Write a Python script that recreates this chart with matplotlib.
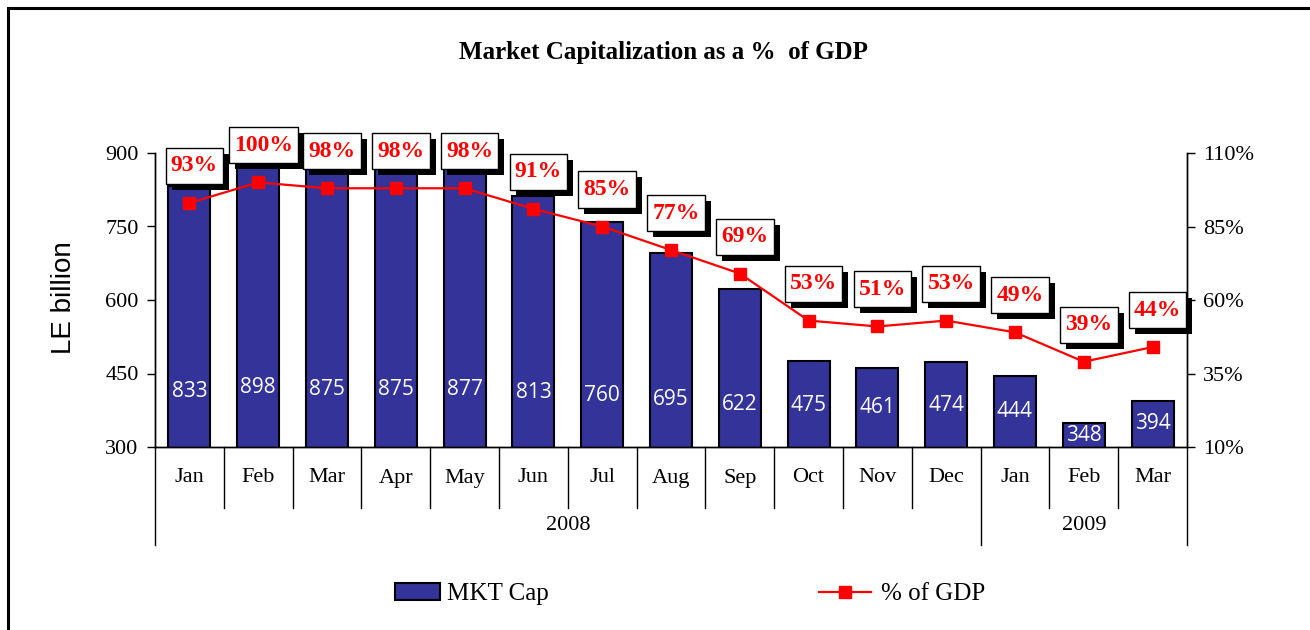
import matplotlib
matplotlib.use("Agg")
import matplotlib.pyplot as plt
from matplotlib.patches import Rectangle, Patch
from matplotlib.lines import Line2D
import matplotlib.patheffects as pe
import matplotlib.transforms as mtransforms
import numpy as np

months = ["Jan", "Feb", "Mar", "Apr", "May", "Jun", "Jul", "Aug", "Sep",
          "Oct", "Nov", "Dec", "Jan", "Feb", "Mar"]
years = ["2008", "2009"]
year_counts = [12, 3]
mkt_cap = [833, 898, 875, 875, 877, 813, 760, 695, 622, 475, 461, 474, 444, 348, 394]
pct_gdp = [93, 100, 98, 98, 98, 91, 85, 77, 69, 53, 51, 53, 49, 39, 44]

W, H, DPI = 1310, 630, 100
fig = plt.figure(figsize=(W / DPI, H / DPI), dpi=DPI)
px = 72.0 / DPI  # points per pixel

serif = "Liberation Serif"
sans_lbl = "Open Sans"
bar_color = "#333399"
red = "#FF0000"

ax = fig.add_axes([155 / W, 1 - 447 / H, (1187 - 155) / W, (447 - 153) / H])
ax2 = ax.twinx()

x = np.arange(len(months))
ax.bar(x, mkt_cap, width=0.61, color=bar_color, edgecolor="black", linewidth=1.5, zorder=2)
ax.set_xlim(-0.5, len(months) - 0.5)
ax.set_ylim(300, 900)
ax.set_yticks([300, 450, 600, 750, 900])
ax2.set_ylim(10, 110)
ax2.set_yticks([10, 35, 60, 85, 110])
ax2.set_yticklabels([f"{v}%" for v in [10, 35, 60, 85, 110]])

for a in (ax, ax2):
    a.spines["top"].set_visible(False)
    for s in a.spines.values():
        s.set_linewidth(1.0)
        s.set_color("black")
    a.tick_params(axis="y", direction="out", length=8 * px, width=1.0,
                  labelsize=16, pad=6)
    for lab in a.get_yticklabels():
        lab.set_fontfamily(serif)
ax.set_xticks([])

# bar value labels (placed inside the bars, Excel-like centring)
ymin = ax.get_ylim()[0]
for xi, v in zip(x, mkt_cap):
    ylab = min((v + ymin) / 2, max(385, 385 + 0.12 * (v - 600)))
    ax.text(xi, ylab, f"{v}", ha="center", va="center", color="white",
            fontsize=15, fontfamily=sans_lbl, zorder=3, clip_on=False)

# line on secondary axis
ax2.plot(x, pct_gdp, color=red, linewidth=1.6, marker="s", markersize=8,
         markerfacecolor=red, markeredgecolor=red, zorder=4)

# percentage labels in boxes with a solid drop shadow
dx, dy = 5 * px, 37 * px
sh = 6 * px
for xi, p in zip(x, pct_gdp):
    t = ax2.annotate(f"{p}%", xy=(xi, p), xytext=(dx, dy), textcoords="offset points",
                     ha="center", va="center", fontsize=17, fontweight="bold",
                     fontfamily=serif, color=red,
                     bbox=dict(boxstyle="square,pad=0.22", fc="white", ec="black", lw=1,
                               mutation_aspect=1.45),
                     zorder=6, annotation_clip=False)
    t.get_bbox_patch().set_path_effects([
        pe.SimplePatchShadow(offset=(sh, -sh), shadow_rgbFace="black", alpha=1.0),
        pe.Normal()])

# two-level category axis
trans = mtransforms.blended_transform_factory(ax.transData, ax.transAxes)
row1 = (447 - 508) / 294.0
row2 = (447 - 545) / 294.0
for i, m in enumerate(months):
    ax.text(i, (447 - 478) / 294.0, m, transform=trans, ha="center", va="center",
            fontsize=16, fontfamily=serif, clip_on=False)
bounds = np.concatenate([[0], np.cumsum(year_counts)]) - 0.5
for b in np.arange(-0.5, len(months), 1.0):
    is_year = np.any(np.isclose(bounds, b))
    ax.plot([b, b], [0, row2 if is_year else row1], transform=trans, color="black",
            lw=1.0, clip_on=False, zorder=1)
for yname, b0, b1 in zip(years, bounds[:-1], bounds[1:]):
    ax.text((b0 + b1) / 2, (447 - 525) / 294.0, yname, transform=trans, ha="center",
            va="center", fontsize=16, fontfamily=serif, clip_on=False)

# y-axis label
fig.text(64 / W, 1 - 298 / H, "LE billion", rotation=90, ha="center", va="center",
         fontsize=20, fontfamily="Liberation Sans")

# title
fig.text(663 / W, 1 - 53 / H, "Market Capitalization as a %  of GDP", ha="center",
         va="center", fontsize=18, fontweight="bold", fontfamily=serif)

# legends
h1 = Patch(facecolor=bar_color, edgecolor="black", linewidth=1.5)
h2 = Line2D([], [], color=red, lw=1.6, marker="s", markersize=8)
leg1 = fig.legend([h1], ["MKT Cap"], loc="center left",
                  bbox_to_anchor=(372 / W, 1 - 594 / H), frameon=False,
                  prop={"family": serif, "size": 18}, handlelength=1.8,
                  handleheight=0.65, handletextpad=0.3)
leg2 = fig.legend([h2], ["% of GDP"], loc="center left",
                  bbox_to_anchor=(796 / W, 1 - 594 / H), frameon=False,
                  prop={"family": serif, "size": 18}, handlelength=2.1,
                  handletextpad=0.4)

# outer frame
fig.patches.append(Rectangle((7.5 / W, -0.2), 1.2, 1.2 - 7.5 / H, transform=fig.transFigure,
                             fill=False, edgecolor="black", linewidth=2.2, clip_on=False))

fig.savefig("out.png", dpi=DPI)
